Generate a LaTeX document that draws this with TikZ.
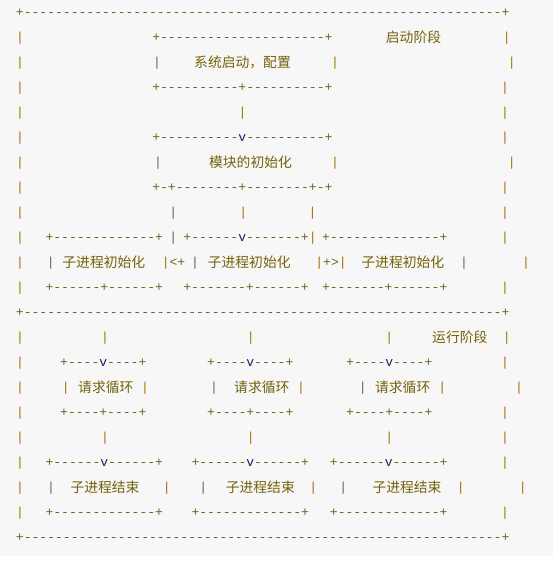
\documentclass[tikz,border=0pt]{standalone}
\usepackage{fontspec}
\setmonofont{Liberation Mono}
\newfontfamily\cjk{Noto Sans CJK SC}

\definecolor{bggray}{RGB}{247,247,247}
\definecolor{linecol}{RGB}{112,98,34}
\definecolor{barcol}{RGB}{160,116,0}
\definecolor{graybar}{RGB}{86,102,124}
\definecolor{textcol}{RGB}{116,98,10}
\definecolor{arrowcol}{RGB}{25,30,95}

\newcommand{\vtip}{{\color{arrowcol}v}}
\newcommand{\vbar}{{\color{barcol}|}}
\newcommand{\dashrun}[1]{\foreach \k in {1,...,#1}{-}}

\tikzset{
  ascii/.style={font=\ttfamily\fontsize{9.79pt}{10pt}\selectfont, text=linecol,
    inner sep=0pt, text height=7pt, text depth=2pt},
  pipe/.style={ascii, text=barcol},
  gpipe/.style={ascii, text=graybar},
  cjktext/.style={font=\cjk\fontsize{10.35pt}{11pt}\selectfont, text=textcol,
    inner sep=0pt, text height=7pt, text depth=2pt, yshift=-1pt}
}

\begin{document}
\begin{tikzpicture}[x=0.75pt,y=-0.75pt]

        % Background
        \useasboundingbox (0,0) rectangle (553,561);
        \fill[white] (0,0) rectangle (553,561);
        \fill[bggray] (0,0) rectangle (553,556);

        % Outer frame
        \node[ascii] (top) at (262.7,13) {+\dashrun{61}+};
        \node[ascii] (mid) at (262.7,313) {+\dashrun{61}+};
        \node[ascii] (bottom) at (262.7,538) {+\dashrun{61}+};
        \foreach \r/\x in {1/506.7,2/511.7,3/505,4/505,5/505,6/511.7,7/505,8/505,
            9/505,10/526,11/505,13/506.7,14/505,15/519,16/505,17/505,18/505,19/522.7,20/505}{
          \node[pipe] (lb\r) at (20,{13+25*\r}) {|};
          \node[pipe] (rb\r) at (\x,{13+25*\r}) {|};
        }

        % Start stage
        \node[ascii] (sysTop) at (242.4,38) {+\dashrun{21}+};
        \node[cjktext] (startStage) at (413.5,38) {启动阶段};
        \node[gpipe] (sysL) at (157,63) {|};
        \node[cjktext] (sysBox) at (242.5,63) {系统启动，配置};
        \node[pipe] (sysR) at (335,63) {|};
        \node[ascii] (sysBot) at (242.4,88) {+\dashrun{10}+\dashrun{10}+};
        \node[pipe] (sysDown) at (242.6,113) {|};
        \node[ascii] (modTop) at (242.4,138) {+\dashrun{10}\vtip\dashrun{10}+};
        \node[gpipe] (modL) at (158,163) {|};
        \node[cjktext] (modBox) at (250.5,163) {模块的初始化};
        \node[pipe] (modR) at (335,163) {|};
        \node[ascii] (modBot) at (242.4,188) {+-+\dashrun{8}+\dashrun{8}+-+};
        \node[gpipe] (forkA) at (173.3,213) {|};
        \node[pipe] (forkB) at (243.3,213) {|};
        \node[pipe] (forkC) at (312.5,213) {|};

        % Child init boxes
        \node[ascii] (childTopA) at (104.3,238) {+\dashrun{13}+};
        \node[gpipe] (forkA2) at (173.3,238) {|};
        \node[ascii] (childTopB) at (250,238) {+\dashrun{6}\vtip\dashrun{7}+\vbar};
        \node[ascii] (childTopC) at (384.7,238) {+\dashrun{14}+};
        \node[gpipe] (childLA) at (50.7,263) {|};
        \node[cjktext] (childA) at (103.8,263) {子进程初始化};
        \node[ascii] (arrowL) at (173.5,263) {\vbar<+};
        \node[gpipe] (childLB) at (195,263) {|};
        \node[cjktext] (childB) at (249.2,263) {子进程初始化};
        \node[ascii] (arrowR) at (331,263) {\vbar+>\vbar};
        \node[cjktext] (childC) at (402.8,263) {子进程初始化};
        \node[gpipe] (childRC) at (464,263) {|};
        \node[ascii] (childBotA) at (104.3,288) {+\dashrun{6}+\dashrun{6}+};
        \node[ascii] (childBotB) at (246,288) {+\dashrun{7}+\dashrun{6}+};
        \node[ascii] (childBotC) at (384.7,288) {+\dashrun{7}+\dashrun{6}+};

        % Run stage
        \node[pipe] (runA) at (105,338) {|};
        \node[pipe] (runB) at (250.7,338) {|};
        \node[pipe] (runC) at (389.3,338) {|};
        \node[cjktext] (runStage) at (459.8,338) {运行阶段};
        \node[ascii] (loopTopA) at (103.3,363) {+\dashrun{4}\vtip\dashrun{4}+};
        \node[ascii] (loopTopB) at (250.3,363) {+\dashrun{4}\vtip\dashrun{4}+};
        \node[ascii] (loopTopC) at (389.3,363) {+\dashrun{4}\vtip\dashrun{4}+};
        \node[pipe] (loopLA) at (65.7,388) {|};
        \node[cjktext] (loopA) at (105.8,388) {请求循环};
        \node[pipe] (loopRA) at (145,388) {|};
        \node[gpipe] (loopLB) at (214,388) {|};
        \node[cjktext] (loopB) at (261.8,388) {请求循环};
        \node[pipe] (loopRB) at (301,388) {|};
        \node[gpipe] (loopLC) at (362.7,388) {|};
        \node[cjktext] (loopC) at (402.7,388) {请求循环};
        \node[pipe] (loopRC) at (442.3,388) {|};
        \node[ascii] (loopBotA) at (103.3,413) {+\dashrun{4}+\dashrun{4}+};
        \node[ascii] (loopBotB) at (250.3,413) {+\dashrun{4}+\dashrun{4}+};
        \node[ascii] (loopBotC) at (389.3,413) {+\dashrun{4}+\dashrun{4}+};

        % Child exit boxes
        \node[pipe] (exitA) at (105,438) {|};
        \node[pipe] (exitB) at (250.7,438) {|};
        \node[pipe] (exitC) at (389.3,438) {|};
        \node[ascii] (endTopA) at (104.3,463) {+\dashrun{6}\vtip\dashrun{6}+};
        \node[ascii] (endTopB) at (250.3,463) {+\dashrun{6}\vtip\dashrun{6}+};
        \node[ascii] (endTopC) at (388.7,463) {+\dashrun{6}\vtip\dashrun{6}+};
        \node[gpipe] (endLA) at (51,488) {|};
        \node[cjktext] (endA) at (105,488) {子进程结束};
        \node[pipe] (endRA) at (166.7,488) {|};
        \node[gpipe] (endLB) at (203.3,488) {|};
        \node[cjktext] (endB) at (260.3,488) {子进程结束};
        \node[pipe] (endRB) at (313.3,488) {|};
        \node[gpipe] (endLC) at (343.3,488) {|};
        \node[cjktext] (endC) at (407,488) {子进程结束};
        \node[pipe] (endRC) at (460.7,488) {|};
        \node[ascii] (endBotA) at (104.3,513) {+\dashrun{13}+};
        \node[ascii] (endBotB) at (250.3,513) {+\dashrun{13}+};
        \node[ascii] (endBotC) at (388.7,513) {+\dashrun{13}+};

\end{tikzpicture}
\end{document}
